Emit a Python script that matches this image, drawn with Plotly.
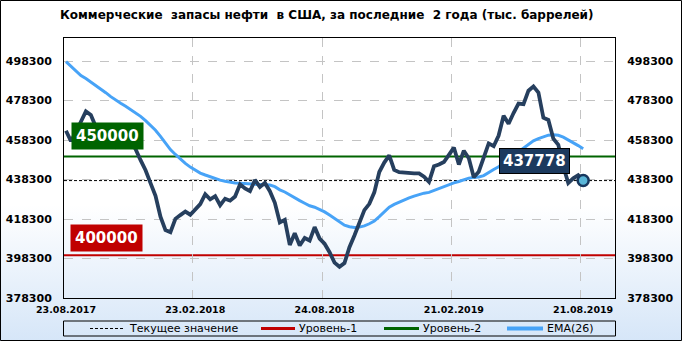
import base64
import plotly.graph_objects as go

# ---------------- data ----------------
tick_labels = ["23.08.2017", "23.02.2018", "24.08.2018", "21.02.2019", "21.08.2019"]
tick_index = [0, 26, 52, 78, 104]

stocks = [
    463000, 457800, 462400, 468200, 472800, 471000, 465000, 462200, 456500, 456600,
    454900, 457100, 459000, 457100, 453700, 448100, 443000, 436500, 430000, 419500,
    412700, 411600, 418400, 420300, 422100, 420500, 423500, 425900, 430900, 428300,
    429900, 425300, 428600, 427600, 429700, 435900, 433800, 432400, 438100, 434500,
    436600, 432400, 426500, 416600, 417900, 405200, 411100, 404900, 408700, 407400,
    414200, 408400, 405800, 401500, 396200, 394100, 396000, 404000, 410000, 416400,
    422800, 426000, 431800, 442100, 446900, 450500, 443200, 442000, 441700, 441500,
    441400, 441400, 439700, 437100, 445000, 445900, 447200, 450800, 454500, 445900,
    452900, 449100, 439500, 442300, 449500, 456600, 455200, 460600, 470600, 466600,
    472000, 476800, 476500, 483300, 485500, 482400, 469600, 468500, 459000, 455900,
    445000, 436500, 438900, 440500, 437778,
]

ema26 = [
    498000, 495500, 493400, 491000, 489500, 487800, 486100, 484400, 482300, 480300,
    478500, 476900, 475400, 473800, 472200, 470300, 468100, 465800, 463300, 460200,
    456800, 453500, 451000, 448500, 446500, 444600, 443000, 441600, 440600, 439700,
    439000, 438000, 437400, 436900, 436500, 436400, 436300, 436000, 436100, 436000,
    435900, 435500, 434700, 433100, 432000, 430400, 429100, 427600, 426300, 425000,
    424300, 423200, 421900, 420300, 418500, 416700, 415200, 414400, 414000, 414200,
    414800, 415900, 417300, 419500, 421900, 424300, 425700, 426900, 428000, 429000,
    429900, 430800, 431400, 431800, 432800, 433800, 434800, 436000, 436600, 437300,
    438300, 439000, 439400, 439600, 440300, 442000, 443400, 444800, 446500, 448500,
    450500, 452300, 454200, 456200, 457900, 459000, 460000, 460800, 461000, 460700,
    459800, 458500, 457000, 455500, 453900,
]

level1 = 400000
level2 = 450000
current_value = stocks[-1]

y_ticks = [378300, 398300, 418300, 438300, 458300, 478300, 498300]
y_range = [378300, 510000]

title_text = "Коммерческие  запасы нефти  в США, за последние  2 года (тыс. баррелей)"
legend_names = ["Текущее значение", "Уровень-1", "Уровень-2", "EMA(26)"]

# ---------------- style / layout ----------------
W, H = 682, 341
ML, MR, MT, MB = 64, 67, 38, 43
PW, PH = W - ML - MR, H - MT - MB

def px(xp):
    return (xp - ML) / PW

def py(yp):
    return (H - MB - yp) / PH

FONT = "DejaVu Sans"
NAVY = "#263f5e"
BLUE = "#47a3f7"
GREEN = "#006400"
RED = "#c00000"
GRID = "#c4c4c4"

x = list(range(len(stocks)))

fig = go.Figure()

fig.add_trace(go.Scatter(x=x, y=ema26, mode="lines", line=dict(color=BLUE, width=3),
                         showlegend=False, hoverinfo="skip"))
fig.add_trace(go.Scatter(x=x, y=stocks, mode="lines", line=dict(color=NAVY, width=3.8),
                         showlegend=False))
fig.add_trace(go.Scatter(x=[x[-1]], y=[current_value], mode="markers",
                         marker=dict(size=11, color="#5ab6d8", line=dict(color="#17375e", width=2.5)),
                         showlegend=False))
# invisible trace to anchor the right axis
fig.add_trace(go.Scatter(x=[x[-1]], y=[current_value], mode="markers", yaxis="y2",
                         marker=dict(size=1, color="rgba(0,0,0,0)"), showlegend=False, hoverinfo="skip"))

# level lines and current-value line
fig.add_shape(type="line", xref="paper", x0=0, x1=1, yref="y", y0=level2, y1=level2,
              line=dict(color=GREEN, width=2), layer="below")
fig.add_shape(type="line", xref="paper", x0=0, x1=1, yref="y", y0=level1, y1=level1,
              line=dict(color=RED, width=2), layer="below")
fig.add_shape(type="line", xref="paper", x0=0, x1=1, yref="y", y0=current_value, y1=current_value,
              line=dict(color="black", width=1, dash="3px,2px"), layer="below")

# level labels
fig.add_annotation(xref="paper", x=px(71), yref="y", y=level2, yanchor="bottom", yshift=6,
                   xanchor="left", text=f"{level2}", showarrow=False, bgcolor=GREEN, borderpad=4,
                   font=dict(family=FONT, size=15, color="white", weight="bold"))
fig.add_annotation(xref="paper", x=px(70), yref="y", y=level1, yanchor="bottom", yshift=3,
                   xanchor="left", text=f"{level1}", showarrow=False, bgcolor=RED, borderpad=4,
                   font=dict(family=FONT, size=15, color="white", weight="bold"))
fig.add_annotation(xref="x", x=x[-1], xanchor="right", xshift=-13, yref="y", y=current_value,
                   yanchor="bottom", yshift=7, text=f"{current_value}", showarrow=False,
                   bgcolor="#1c3a5e", bordercolor="black", borderwidth=1, borderpad=3,
                   font=dict(family=FONT, size=15, color="white", weight="bold"))

# title
fig.add_annotation(xref="paper", yref="paper", x=px(327), y=py(15), xanchor="center", yanchor="middle",
                   text=title_text, showarrow=False,
                   font=dict(family=FONT, size=12, color="black", weight="bold"))

# manual legend
ly = py(328.5)
fig.add_shape(type="rect", xref="paper", yref="paper", x0=px(63.5), x1=px(615.5), y0=py(321), y1=py(336),
              line=dict(color="black", width=1), fillcolor="rgba(0,0,0,0)")
legend_items = [
    (90, 123, "black", 1, "3px,2px", 127),
    (261, 295, RED, 3, "solid", 297),
    (384, 419, GREEN, 3, "solid", 421),
    (507, 543, BLUE, 4, "solid", 545),
]
for (xa, xb, col, wdt, dsh, xt), name in zip(legend_items, legend_names):
    fig.add_shape(type="line", xref="paper", yref="paper", x0=px(xa), x1=px(xb), y0=ly, y1=ly,
                  line=dict(color=col, width=wdt, dash=dsh))
    fig.add_annotation(xref="paper", yref="paper", x=px(xt), y=ly, xanchor="left", yanchor="middle",
                       text=name, showarrow=False, font=dict(family=FONT, size=11, color="black"))

# outer border
fig.add_shape(type="rect", xref="paper", yref="paper", x0=px(0.5), x1=px(W - 0.5), y0=py(H - 0.5), y1=py(0.5),
              line=dict(color="black", width=1), fillcolor="rgba(0,0,0,0)")

# gradient background
svg = (f'<svg xmlns="http://www.w3.org/2000/svg" width="{W}" height="{H}" preserveAspectRatio="none">'
       '<defs><linearGradient id="g" x1="0" y1="0" x2="0" y2="1">'
       '<stop offset="0" stop-color="#ffffff"/><stop offset="0.6" stop-color="#ffffff"/>'
       '<stop offset="1" stop-color="#d6e6f8"/></linearGradient></defs>'
       f'<rect width="{W}" height="{H}" fill="url(#g)"/></svg>')
src = "data:image/svg+xml;base64," + base64.b64encode(svg.encode()).decode()
fig.add_layout_image(source=src, xref="paper", yref="paper", x=px(0), y=py(0),
                     sizex=W / PW, sizey=H / PH, xanchor="left", yanchor="top",
                     sizing="stretch", layer="below")

tickfont = dict(family=FONT, size=11, color="black", weight="bold")
fig.update_layout(
    width=W, height=H,
    margin=dict(l=ML, r=MR, t=MT, b=MB, pad=0),
    paper_bgcolor="white", plot_bgcolor="rgba(0,0,0,0)",
    showlegend=False,
    xaxis=dict(range=[-0.4, 110.4], tickvals=tick_index, ticktext=tick_labels,
               showgrid=False, zeroline=False, showline=True, mirror=True,
               linecolor="black", linewidth=1, ticks="outside", ticklen=3,
               tickcolor="rgba(0,0,0,0)", automargin=False,
               tickfont=dict(family=FONT, size=9.5, color="black", weight="bold"),
               minor=dict(tickvals=[25.5, 51.5, 77.5, 103.5], showgrid=True, gridcolor=GRID,
                          griddash="dash", gridwidth=1, ticks="")),
    yaxis=dict(range=y_range, tickvals=y_ticks, ticktext=[str(v) for v in y_ticks],
               showgrid=True, gridcolor=GRID, griddash="dash", gridwidth=1,
               zeroline=False, showline=True, mirror=True, linecolor="black", linewidth=1,
               ticks="outside", ticklen=9, tickcolor="rgba(0,0,0,0)", automargin=False,
               tickfont=tickfont),
    yaxis2=dict(range=y_range, tickvals=y_ticks, ticktext=[str(v) for v in y_ticks],
                overlaying="y", side="right", showgrid=False, zeroline=False, showline=False,
                ticks="outside", ticklen=9, tickcolor="rgba(0,0,0,0)", automargin=False,
                tickfont=tickfont),
)

fig.write_html("out.html")
